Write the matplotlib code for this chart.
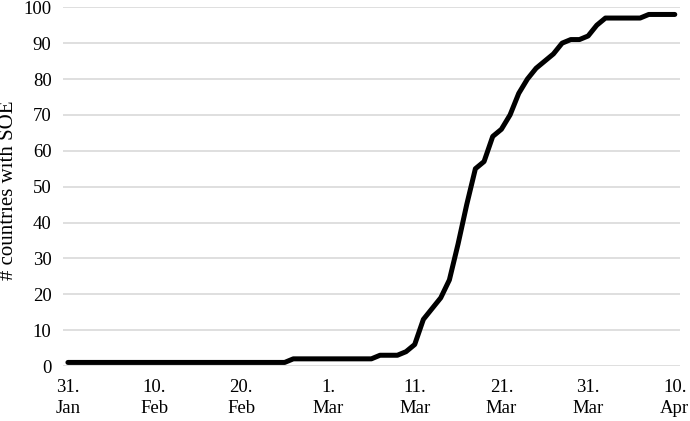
import matplotlib
matplotlib.use('Agg')
import matplotlib.pyplot as plt

# day index 0 = 31 Jan, 70 = 10 Apr
days = list(range(71))
soe_countries = [
    1, 1, 1, 1, 1, 1, 1, 1, 1, 1,
    1, 1, 1, 1, 1, 1, 1, 1, 1, 1,
    1, 1, 1, 1, 1, 1, 2, 2, 2, 2,
    2, 2, 2, 2, 2, 2, 3, 3, 3, 4,
    6, 13, 16, 19, 24, 34, 45, 55, 57, 64,
    66, 70, 76, 80, 83, 85, 87, 90, 91, 91,
    92, 95, 97, 97, 97, 97, 97, 98, 98, 98,
    98,
]
tick_days = [0, 10, 20, 30, 40, 50, 60, 70]
tick_labels = ["31.\nJan", "10.\nFeb", "20.\nFeb", "1.\nMar",
               "11.\nMar", "21.\nMar", "31.\nMar", "10.\nApr"]

plt.rcParams['font.family'] = ['Liberation Serif', 'DejaVu Serif']

fig = plt.figure(figsize=(6.9, 4.21), dpi=100)
ax = fig.add_axes([0.0909, 0.1306, 0.8946, 0.8521])

ax.plot(days, soe_countries, color="black", linewidth=3.6,
        solid_joinstyle="round", solid_capstyle="round", zorder=3)

ax.set_xlim(-0.6, 70.6)
ax.set_ylim(0, 100)
ax.set_yticks(range(0, 101, 10))
ax.set_xticks(tick_days)
ax.set_xticklabels(tick_labels, linespacing=1.35)
ax.tick_params(axis="both", length=0, labelsize=13.5, colors="black")
ax.tick_params(axis="y", pad=8)
ax.tick_params(axis="x", pad=9)
ax.yaxis.grid(True, color="#d9d9d9", linewidth=1.2)
ax.set_axisbelow(True)
for side in ax.spines.values():
    side.set_visible(False)

ax.set_ylabel("# countries with SOE", fontsize=15)
ax.yaxis.set_label_coords(-0.073, 0.49)

fig.savefig("out.png", dpi=100)
